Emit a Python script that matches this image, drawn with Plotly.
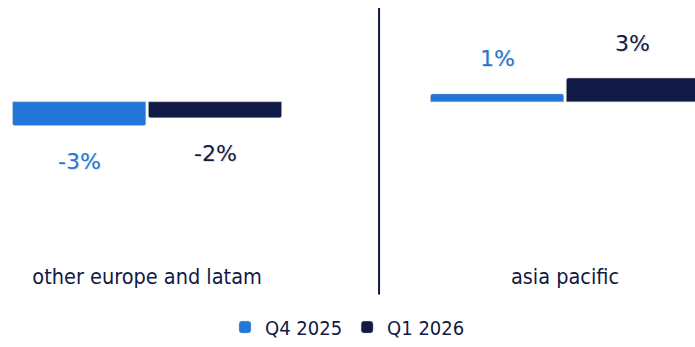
import plotly.graph_objects as go

categories = ["other europe and latam", "asia pacific"]
series_names = ["Q4 2025", "Q1 2026"]
q4_2025 = [-3, 1]
q1_2026 = [-2, 3]
series_values = [q4_2025, q1_2026]
colors = ["#2176d8", "#111a44"]

bargap = 0.35
bargroupgap = 0.02
n = len(series_names)
slot = (1 - bargap) / n

fig = go.Figure()
for name, vals, col in zip(series_names, series_values, colors):
    fig.add_trace(go.Bar(
        x=categories, y=vals, name=name,
        marker=dict(color=col, line=dict(color="rgba(190,190,190,0.7)", width=0.6)),
        hoverinfo="skip",
    ))

annotations = []
for j, (vals, col) in enumerate(zip(series_values, colors)):
    off = -(1 - bargap) / 2 + slot * (j + 0.5)
    for i, v in enumerate(vals):
        annotations.append(dict(
            x=i + off, y=v, xref="x", yref="y",
            text=f"{v}%", showarrow=False,
            yshift=35 if v >= 0 else -36,
            font=dict(family="DejaVu Sans", size=22, color=col,
                      shadow="1px 1px 1px #dddddd"),
        ))

fig.update_layout(
    width=695, height=347,
    margin=dict(l=0, r=0, t=0, b=85),
    paper_bgcolor="white", plot_bgcolor="white",
    barmode="group", bargap=bargap, bargroupgap=bargroupgap,
    barcornerradius=2,
    showlegend=True,
    legend=dict(orientation="h", x=0.5, xanchor="center", y=-0.263, yanchor="middle",
                font=dict(family="DejaVu Sans Condensed", size=20, color="#111a44"),
                itemwidth=30, traceorder="normal"),
    xaxis=dict(range=[-0.352, 1.311], showgrid=False, zeroline=False, showline=False,
               ticks="", tickfont=dict(family="DejaVu Sans Condensed", size=21.5, color="#111a44"),
               ticklabelstandoff=2),
    yaxis=dict(range=[-19.875, 12.875], visible=False, showgrid=False, zeroline=False),
    annotations=annotations,
    shapes=[dict(type="line", xref="x", yref="paper", x0=0.555, x1=0.555,
                 y0=-0.137, y1=0.969, line=dict(color="#111a44", width=2))],
)

fig.write_html("out.html")
